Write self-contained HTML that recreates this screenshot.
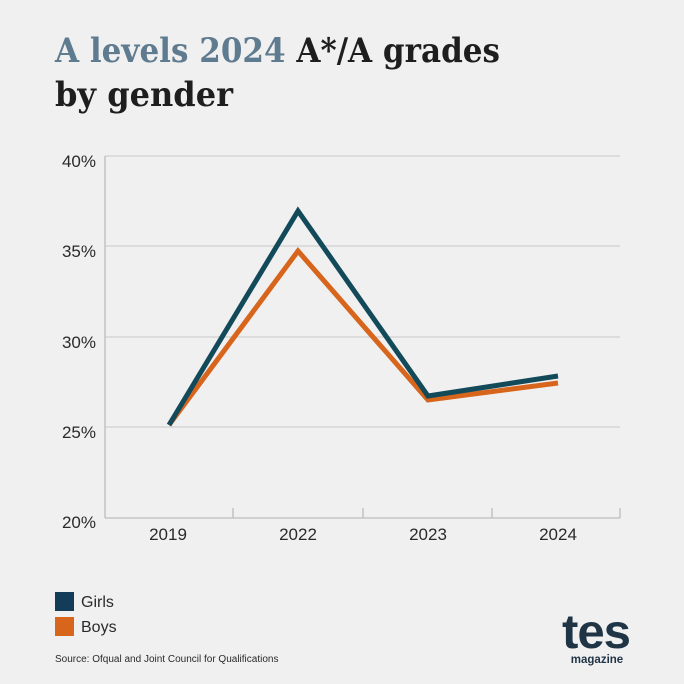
<!DOCTYPE html>
<html><head><style>
body{margin:0;background:#f1f0f1;}
svg{display:block}
</style></head><body>
<svg width="684" height="684" xmlns="http://www.w3.org/2000/svg">
<rect width="684" height="684" fill="#f1f0f1"/>
<g font-family="'DejaVu Serif','Liberation Serif',serif" font-weight="bold" font-size="34">
<text x="55" y="62" textLength="445" lengthAdjust="spacingAndGlyphs"><tspan fill="#5f7b8f">A levels 2024</tspan><tspan fill="#1e1e1e"> A*/A grades</tspan></text>
<text x="55" y="106" fill="#1e1e1e" textLength="178" lengthAdjust="spacingAndGlyphs">by gender</text>
</g>
<g stroke="#cfcfcf" stroke-width="1.2">
<line x1="105" y1="156" x2="620" y2="156"/>
<line x1="105" y1="246" x2="620" y2="246"/>
<line x1="105" y1="337" x2="620" y2="337"/>
<line x1="105" y1="427" x2="620" y2="427"/>
</g>
<g stroke="#bdbdbd" stroke-width="1.3">
<line x1="105" y1="156" x2="105" y2="518"/>
<line x1="105" y1="518" x2="620" y2="518"/>
<line x1="233" y1="508" x2="233" y2="518"/>
<line x1="363" y1="508" x2="363" y2="518"/>
<line x1="492" y1="508" x2="492" y2="518"/>
<line x1="620" y1="508" x2="620" y2="518"/>
</g>
<g font-family="'Liberation Sans',sans-serif" font-size="17" fill="#2a2a2a" text-anchor="end">
<text x="96" y="167">40%</text>
<text x="96" y="257">35%</text>
<text x="96" y="348">30%</text>
<text x="96" y="438">25%</text>
<text x="96" y="528">20%</text>
</g>
<g font-family="'Liberation Sans',sans-serif" font-size="17" fill="#2a2a2a" text-anchor="middle">
<text x="168" y="540">2019</text>
<text x="298" y="540">2022</text>
<text x="428" y="540">2023</text>
<text x="558" y="540">2024</text>
</g>
<polyline points="169,425 298,251 428,400 558,383" fill="none" stroke="#d7651c" stroke-width="5" stroke-linejoin="miter"/>
<polyline points="169,425 298,211 428,396 558,376" fill="none" stroke="#124a5a" stroke-width="5" stroke-linejoin="miter"/>
<rect x="55" y="592" width="19" height="19" fill="#133c58"/>
<rect x="55" y="617" width="19" height="19" fill="#d7651c"/>
<g font-family="'Liberation Sans',sans-serif" font-size="16" fill="#2a2a2a">
<text x="81" y="607">Girls</text>
<text x="81" y="632">Boys</text>
</g>
<text x="55" y="662" font-family="'Liberation Sans',sans-serif" font-size="10" fill="#2a2a2a">Source: Ofqual and Joint Council for Qualifications</text>
<text x="596" y="648" text-anchor="middle" font-family="'Liberation Sans',sans-serif" font-weight="bold" font-size="48" fill="#1f3445" letter-spacing="-1" textLength="68" lengthAdjust="spacingAndGlyphs">tes</text>
<text x="597" y="663" text-anchor="middle" font-family="'Liberation Sans',sans-serif" font-weight="bold" font-size="11.5" fill="#1f3445">magazine</text>
</svg>
</body></html>
